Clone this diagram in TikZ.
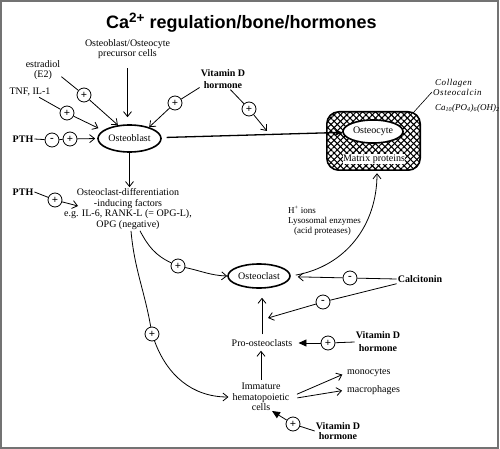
\documentclass[tikz,border=0pt]{standalone}
\usepackage{fontspec}
\setmainfont{Liberation Serif}
\newfontfamily\titlefont{Liberation Sans}
\newfontfamily\labelfont[LetterSpace=6]{Liberation Serif}
\usetikzlibrary{shapes.geometric, arrows.meta, patterns.meta}
\begin{document}
\begin{tikzpicture}[x=1pt, y=-1pt,
  txt/.style={font=\fontsize{10}{10.7}\selectfont, inner sep=1pt, align=center},
  btxt/.style={font=\fontsize{10}{12}\selectfont\bfseries, inner sep=1pt, align=center},
  smalltxt/.style={font=\fontsize{9}{10}\selectfont, inner sep=1pt, align=left},
  itl/.style={font=\labelfont\itshape\fontsize{9}{9}\selectfont, inner sep=1pt, anchor=west},
  cell/.style={ellipse, draw, line width=1.6pt, fill=white, inner sep=0pt, font=\fontsize{10}{11}\selectfont},
  sign/.style={circle, draw, line width=0.8pt, fill=white, minimum size=14pt, inner sep=0pt, font=\fontsize{11}{11}\selectfont\bfseries},
  link/.style={line width=0.8pt},
  arr/.style={line width=0.8pt, -{Straight Barb[length=5pt,width=8pt]}},
  arrf/.style={line width=0.8pt, -{Triangle[length=8pt,width=7pt]}},
  arrs/.style={line width=1.3pt, -{Stealth[length=8pt,width=7pt]}}
]
\useasboundingbox (0,0) rectangle (500,449);
\draw[black!55, line width=2pt] (1,1) rectangle (498,447.5);

% title
\node[anchor=base west, inner sep=0, font=\titlefont\bfseries\fontsize{18}{20}\selectfont] (title) at (106,29)
  {Ca\raisebox{6pt}{\fontsize{13.5}{14}\selectfont 2+} regulation/bone/hormones};

% text nodes
\node[txt] (prec) at (127.5,49) {Osteoblast/Osteocyte\\precursor cells};
\node[txt] (e2) at (43,70) {estradiol\\(E2)};
\node[txt] (tnf) at (30,92) {TNF, IL-1};
\node[btxt] (pth1) at (23,139) {PTH};
\node[btxt] (vitd1) at (223,79) {Vitamin D\\hormone};
\node[cell, minimum width=63pt, minimum height=27pt] (ob) at (129.5,138.5) {Osteoblast};

% bone box
\node[minimum width=93pt, minimum height=58pt, inner sep=0pt] (box) at (373.5,141) {};
\fill[pattern={Lines[angle=45,distance=4.5pt,line width=1.1pt]}, rounded corners=12pt] (box.north west) rectangle (box.south east);
\fill[pattern={Lines[angle=-45,distance=4.5pt,line width=1.1pt]}, rounded corners=12pt] (box.north west) rectangle (box.south east);
\draw[line width=1.6pt, rounded corners=12pt] (box.north west) rectangle (box.south east);
\node[cell, minimum width=60pt, minimum height=23pt] (ocy) at (373,131.5) {Osteocyte};
\node[txt, fill=white, inner sep=0.5pt] (mp) at (374,159) {Matrix proteins};

\node[itl] (coll) at (434,83) {Collagen};
\node[itl] (ostc) at (432,92) {Osteocalcin};
\node[inner sep=1pt, anchor=west, font=\itshape\fontsize{9}{9}\selectfont] (hap) at (434,108) {Ca\textsubscript{10}(PO\textsubscript{4})\textsubscript{6}(OH)\textsubscript{2}};

\node[txt] (diff) at (128,209) {Osteoclast-differentiation\\-inducing factors\\e.g. IL-6, RANK-L (= OPG-L),\\OPG (negative)};
\node[btxt] (pth2) at (23,192) {PTH};
\node[cell, minimum width=62pt, minimum height=24pt] (ocl) at (259,276) {Osteoclast};
\node[smalltxt, anchor=west] (hion) at (287,221) {H\textsuperscript{+} ions\\Lysosomal enzymes\\\hspace*{6pt}(acid proteases)};
\node[btxt] (calc) at (420,279) {Calcitonin};
\node[txt] (pro) at (262,343) {Pro-osteoclasts};
\node[btxt, font=\fontsize{10}{13}\selectfont\bfseries] (vitd2) at (378,342) {Vitamin D\\hormone};
\node[txt] (imm) at (261,397) {Immature\\hematopoietic\\cells};
\node[txt, anchor=west] (mono) at (346,373) {monocytes};
\node[txt, anchor=west] (macro) at (346,390) {macrophages};
\node[btxt, font=\fontsize{10}{10.5}\selectfont\bfseries] (vitd3) at (338,431) {Vitamin D\\hormone};

% free ends
\coordinate (vtip) at (267,131);
\coordinate (pthTip) at (78,206);
\coordinate (calcTip) at (268,318);
\coordinate (vdTip) at (272,411);

% sign circles
\node[sign] (se2) at (84,95) {+};
\node[sign] (stnf) at (67,113) {+};
\node[sign] (spm) at (52,140) {-};
\node[sign] (spp) at (70,139) {+};
\node[sign] (sv1) at (175,103) {+};
\node[sign] (sv2) at (249,109) {+};
\node[sign] (spth2) at (55,200) {+};
\node[sign] (sc1) at (178,266) {+};
\node[sign] (sc2) at (152,334) {+};
\node[sign] (sm1) at (350,278) {-};
\node[sign] (sm2) at (323,302) {-};
\node[sign] (svd2) at (328,343) {+};
\node[sign] (svd3) at (293,424) {+};

% connectors
\draw[arr, shorten <=8pt, shorten >=7pt] (prec.south) -- (prec.south |- ob.north);
\draw[link] (e2.-20) -- (se2);
\draw[arr] (se2) -- (ob.131);
\draw[link] (tnf.-30) -- (stnf);
\draw[arr, shorten >=5pt] (stnf) -- (ob.163);
\draw[link] (pth1.east) -- (spm);
\draw[link] (spm) -- (spp);
\draw[arr, shorten >=2pt] (spp) -- (ob.west);
\draw[link] (vitd1.200) -- (sv1);
\draw[arr] (sv1) -- (ob.30);
\draw[link] (vitd1.-55) -- (sv2);
\draw[arr] (sv2) -- (vtip);
\draw[arrs, shorten <=5pt] (ob) -- (ocy);
\draw[line width=0.6pt] ([shift={(-7,1)}]box.north east) -- (ostc.west);

\draw[arr] (ob.south) -- (ob.south |- diff.north);
\draw[link] (pth2.east) -- (spth2);
\draw[arr] (spth2) -- (pthTip);
\draw[link] ([xshift=12pt]diff.south) to[out=-62,in=155] (sc1);
\draw[arr] (sc1) to[out=-12,in=178] (ocl.west);
\draw[link] ([xshift=3pt]diff.south) to[out=-85,in=100] (sc2);
\draw[arr] (sc2) to[out=-70,in=180] ([xshift=-3pt]imm.west);

\draw[arr, shorten <=5pt, shorten >=3pt] (ocl.east) .. controls +(55,-10) and +(0,55) .. ([xshift=3.5pt]box.south);
\draw[link] (calc.west) -- (sm1);
\draw[arr, shorten >=7pt] (sm1) -- (ocl);
\draw[link] (calc.south west) -- (sm2);
\draw[arr] (sm2) -- (calcTip);
\draw[arr, shorten >=9pt] ([yshift=4pt]pro.north) -- (pro.north |- ocl.south);
\draw[arr, shorten <=2pt, shorten >=3pt] (imm.north) -- (imm.north |- pro.south);
\draw[link] (vitd2.west) -- (svd2);
\draw[arrf] (svd2) -- ([xshift=5pt]pro.east);
\draw[arr, shorten <=7pt, shorten >=4pt] (imm.east) -- (mono.west);
\draw[arr, shorten <=7pt, shorten >=4pt] ([yshift=-2pt]imm.east) -- (macro.west);
\draw[link] (vitd3.west) -- (svd3);
\draw[arrf] (svd3) -- (vdTip);
\end{tikzpicture}
\end{document}
